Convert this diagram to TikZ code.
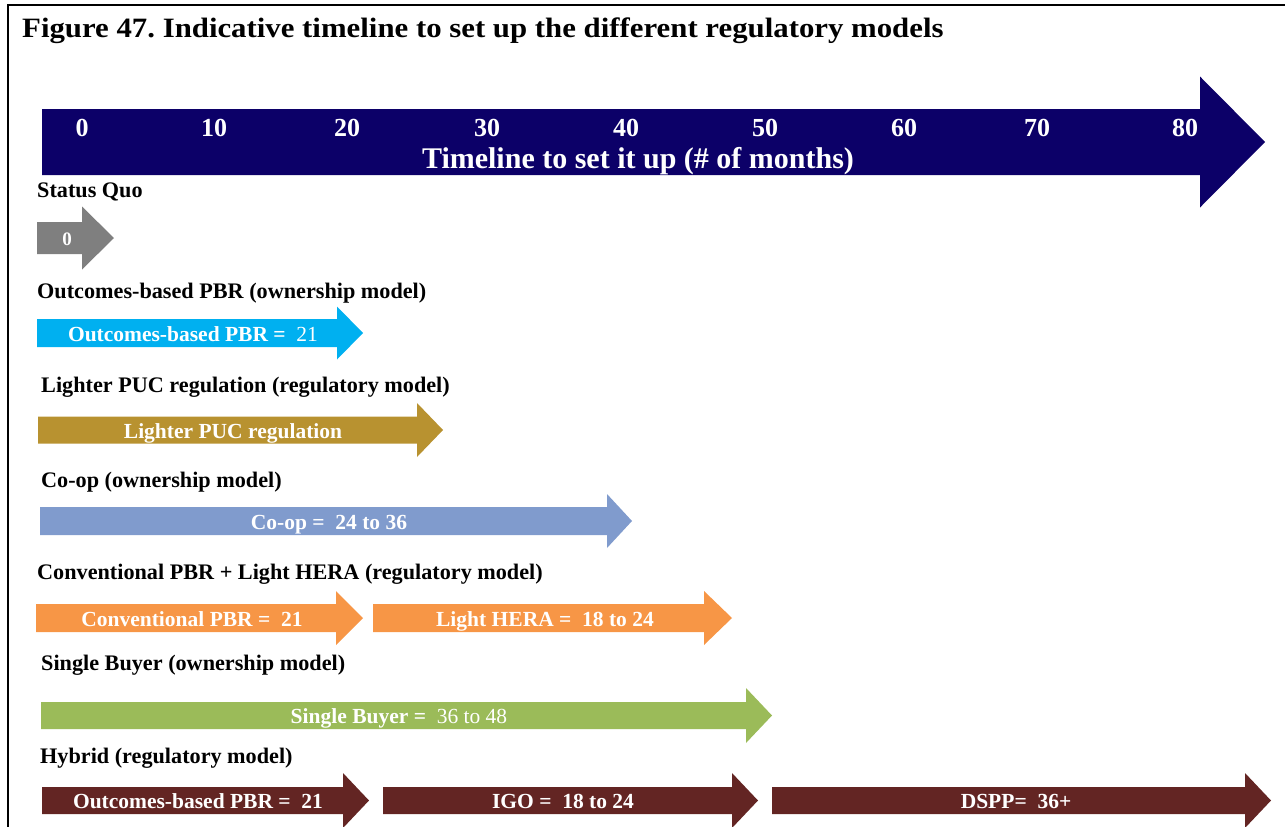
\documentclass[tikz,border=0pt]{standalone}
\usepackage{fontspec}
\setmainfont{Liberation Serif}
\newfontfamily\titlefont{Liberation Serif}[FakeStretch=1.1]
\frenchspacing
\definecolor{navy}{RGB}{12,0,104}
\definecolor{sqgrey}{RGB}{127,127,127}
\definecolor{obcyan}{RGB}{0,176,240}
\definecolor{pucgold}{RGB}{184,146,48}
\definecolor{coopblue}{RGB}{128,155,205}
\definecolor{convorange}{RGB}{247,150,70}
\definecolor{sbgreen}{RGB}{155,187,89}
\definecolor{hymaroon}{RGB}{99,37,35}
% #1 colour, #2 left x, #3 head base x, #4 tip x, #5 centre y, #6 half body, #7 half head
\newcommand\blockarrow[7]{%
  \fill[#1] (#2,{#5-#6}) -- (#3,{#5-#6}) -- (#3,{#5-#7}) -- (#4,#5) -- (#3,{#5+#7}) -- (#3,{#5+#6}) -- (#2,{#5+#6}) -- cycle;}
\begin{document}
\begin{tikzpicture}[x=1pt,y=-1pt,
  ttl/.style={anchor=base west, inner sep=0, font=\titlefont\bfseries\fontsize{28}{32}\selectfont},
  lbl/.style={anchor=base west, inner sep=0, font=\bfseries\fontsize{22.2}{26}\selectfont},
  atxt/.style={anchor=base, inner sep=0, text=white, font=\bfseries\fontsize{21.5}{26}\selectfont},
  numtxt/.style={anchor=base, inner sep=0, text=white, font=\bfseries\fontsize{26}{30}\selectfont},
  axiscaption/.style={anchor=base, inner sep=0, text=white, font=\bfseries\fontsize{30}{34}\selectfont},
  boxframe/.style={line width=2.2pt, black}]
\useasboundingbox (0,0) rectangle (1285,827);
% frame
\draw[boxframe] (1285,5) -- (8,5) -- (8,827);
% title
\node[ttl] (title) at (22,37) {Figure 47. Indicative timeline to set up the different regulatory models};
% main timeline arrow
\blockarrow{navy}{42}{1200}{1265}{142}{33}{65.5}
\node[numtxt] (n0) at (82,136) {0};
\node[numtxt] (n10) at (214,136) {10};
\node[numtxt] (n20) at (347,136) {20};
\node[numtxt] (n30) at (487,136) {30};
\node[numtxt] (n40) at (626,136) {40};
\node[numtxt] (n50) at (765,136) {50};
\node[numtxt] (n60) at (904,136) {60};
\node[numtxt] (n70) at (1037,136) {70};
\node[numtxt] (n80) at (1185,136) {80};
\node[axiscaption] (tcap) at (638,168) {Timeline to set it up (\# of months)};
% Status quo
\node[lbl] (lsq) at (37,197) {Status Quo};
\blockarrow{sqgrey}{37}{82}{114}{238}{16}{31.5}
\node[atxt, font=\bfseries\fontsize{19}{22}\selectfont] (asq) at (67,245) {0};
% Outcomes-based PBR
\node[lbl] (lob) at (37,298) {Outcomes-based PBR (ownership model)};
\blockarrow{obcyan}{37}{337}{363}{333}{14}{26.5}
\node[atxt] (aob) at (193,341) {Outcomes-based PBR =~~\mdseries 21};
% Lighter PUC
\node[lbl] (lpuc) at (41,392) {Lighter PUC regulation (regulatory model)};
\blockarrow{pucgold}{38}{417}{443}{430}{13.5}{27}
\node[atxt] (apuc) at (233,438) {Lighter PUC regulation};
% Co-op
\node[lbl] (lcoop) at (41,487) {Co-op (ownership model)};
\blockarrow{coopblue}{40}{607}{632}{521}{14}{27}
\node[atxt] (acoop) at (329,529) {Co-op =~~24 to 36};
% Conventional PBR + Light HERA
\node[lbl] (lconv) at (37,579) {Conventional PBR + Light HERA (regulatory model)};
\blockarrow{convorange}{36}{336}{363}{618}{14}{27}
\node[atxt] (aconv) at (192,626) {Conventional PBR =~~21};
\blockarrow{convorange}{373}{704}{732}{618}{14}{27}
\node[atxt] (ahera) at (545,626) {Light HERA =~~18 to 24};
% Single Buyer
\node[lbl] (lsb) at (41,670) {Single Buyer (ownership model)};
\blockarrow{sbgreen}{41}{746}{772}{715.5}{13.5}{27.5}
\node[atxt] (asb) at (399,723) {Single Buyer =~~\mdseries 36 to 48};
% Hybrid
\node[lbl] (lhy) at (40,763) {Hybrid (regulatory model)};
\blockarrow{hymaroon}{42}{343}{369}{800.5}{13.5}{27.5}
\node[atxt] (ahy1) at (198,808) {Outcomes-based PBR =~~21};
\blockarrow{hymaroon}{383}{732}{758}{800.5}{13.5}{27.5}
\node[atxt] (ahy2) at (563,808) {IGO =~~18 to 24};
\blockarrow{hymaroon}{772}{1245}{1271}{800.5}{13.5}{27.5}
\node[atxt] (ahy3) at (1016,808) {DSPP=~~36+};
\end{tikzpicture}
\end{document}
